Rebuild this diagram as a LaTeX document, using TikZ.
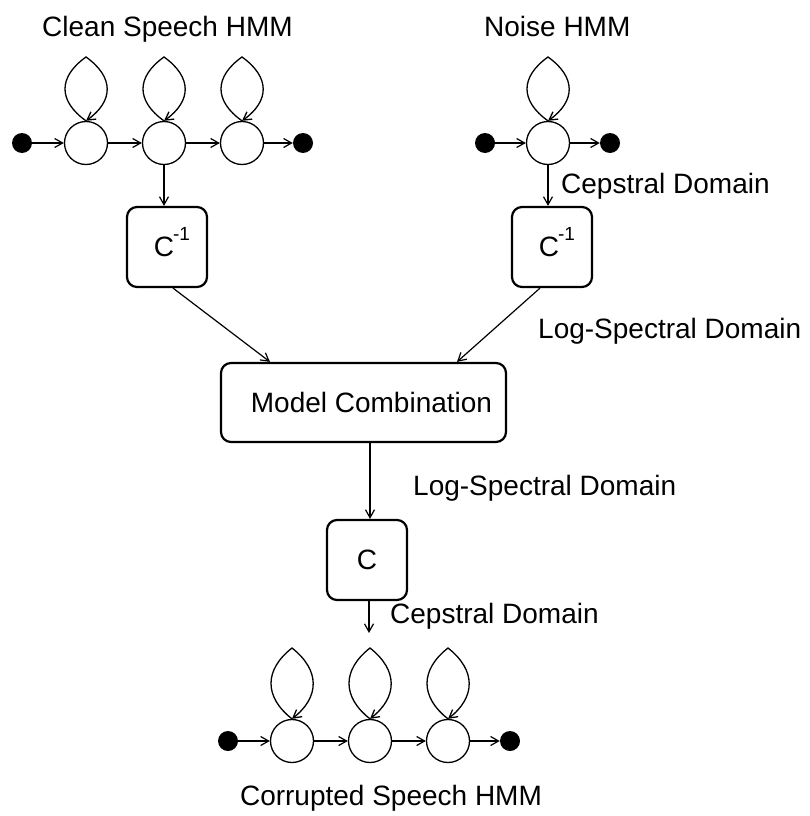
\documentclass[tikz,border=0pt]{standalone}
\usepackage{fontspec}
\setmainfont{Liberation Sans}
\usetikzlibrary{arrows.meta}
\newcommand{\invsup}{\kern-1pt\smash{\raisebox{16pt}{\fontsize{19}{21}\selectfont -1}}}
\begin{document}
\begin{tikzpicture}[x=1pt,y=-1pt,
  state/.style={circle,draw,line width=1.3pt,minimum size=43pt,inner sep=0pt},
  term/.style={circle,fill=black,minimum size=20pt,inner sep=0pt},
  box/.style={draw,rounded corners=10pt,line width=2.2pt,minimum width=80pt,minimum height=80pt,inner sep=0pt,font=\fontsize{28}{32}\selectfont},
  lab/.style={font=\fontsize{28}{32}\selectfont,inner sep=0pt},
  conn/.style={line width=1.2pt,-{Straight Barb[length=8pt,width=9pt,line width=1.2pt]}},
  loopline/.style={line width=1.3pt,-{Straight Barb[length=8pt,width=9pt,line width=1.3pt]}},
]
\useasboundingbox (0,0) rectangle (809,816);
% clean speech HMM
\node[term] (d1) at (22,143) {};
\node[state] (c1) at (86,143) {};
\node[state] (c2) at (164,143) {};
\node[state] (c3) at (242,143) {};
\node[term] (d2) at (303,143) {};
\coordinate (t1) at (86,57);
\coordinate (t2) at (164,57);
\coordinate (t3) at (242,57);
% noise HMM
\node[term] (nd1) at (485,143) {};
\node[state] (n1) at (548,143) {};
\node[term] (nd2) at (610,143) {};
\coordinate (tn) at (548,57);
% boxes
\node[box] (ci1) at (167,247) {\hspace*{10pt}C\invsup};
\node[box] (ci2) at (552,247) {\hspace*{10pt}C\invsup};
\node[box,minimum width=285pt,minimum height=79pt] (mc) at (363.5,402.5) {\hspace*{16pt}Model Combination};
\node[box] (cb) at (367,560) {C};
\coordinate (cbend) at (369,633);
% corrupted HMM
\node[term] (bd1) at (228,741) {};
\node[state] (b1) at (292,741) {};
\node[state] (b2) at (370,741) {};
\node[state] (b3) at (448,741) {};
\node[term] (bd2) at (510,741) {};
\coordinate (u1) at (292,648);
\coordinate (u2) at (370,648);
\coordinate (u3) at (448,648);
% horizontal transitions
\draw[conn] (d1) -- (c1);
\draw[conn] (c1) -- (c2);
\draw[conn] (c2) -- (c3);
\draw[conn] (c3) -- (d2);
\draw[conn] (nd1) -- (n1);
\draw[conn] (n1) -- (nd2);
\draw[conn] (bd1) -- (b1);
\draw[conn] (b1) -- (b2);
\draw[conn] (b2) -- (b3);
\draw[conn] (b3) -- (bd2);
% self loops
\foreach \s/\t in {c1/t1,c2/t2,c3/t3,n1/tn}{
  \draw[loopline] (\s.north) .. controls +(-28,-20) and +(-28,20) .. (\t)
     .. controls +(28,20) and +(28,-20) .. (\s.north);
}
\foreach \s/\t in {b1/u1,b2/u2,b3/u3}{
  \draw[loopline] (\s.north) .. controls +(-28,-22) and +(-28,22) .. (\t)
     .. controls +(28,22) and +(28,-22) .. (\s.north);
}
% vertical / diagonal connectors
\draw[conn] (c2.south) -- (c2.south |- ci1.north);
\draw[conn] (n1.south) -- (n1.south |- ci2.north);
\draw[conn] ([xshift=6pt]ci1.south) -- ([xshift=-93.5pt]mc.north);
\draw[conn] ([xshift=-12pt]ci2.south) -- ([xshift=93.5pt]mc.north);
\draw[conn] ([xshift=6.5pt]mc.south) -- ([xshift=6.5pt]mc.south |- cb.north);
\draw[conn] (cb.south -| cbend) -- (cbend);
% labels
\node[lab,anchor=base west] (lcs) at (42,37) {Clean Speech HMM};
\node[lab,anchor=base west] (lnh) at (484,37) {Noise HMM};
\node[lab,anchor=base west] (lcd1) at (561,193) {Cepstral Domain};
\node[lab,anchor=base west] (lls1) at (538,338) {Log-Spectral Domain};
\node[lab,anchor=base west] (lls2) at (413,495) {Log-Spectral Domain};
\node[lab,anchor=base west] (lcd2) at (390,623) {Cepstral Domain};
\node[lab,anchor=base] (lch) at (391,805) {Corrupted Speech HMM};
\end{tikzpicture}
\end{document}
